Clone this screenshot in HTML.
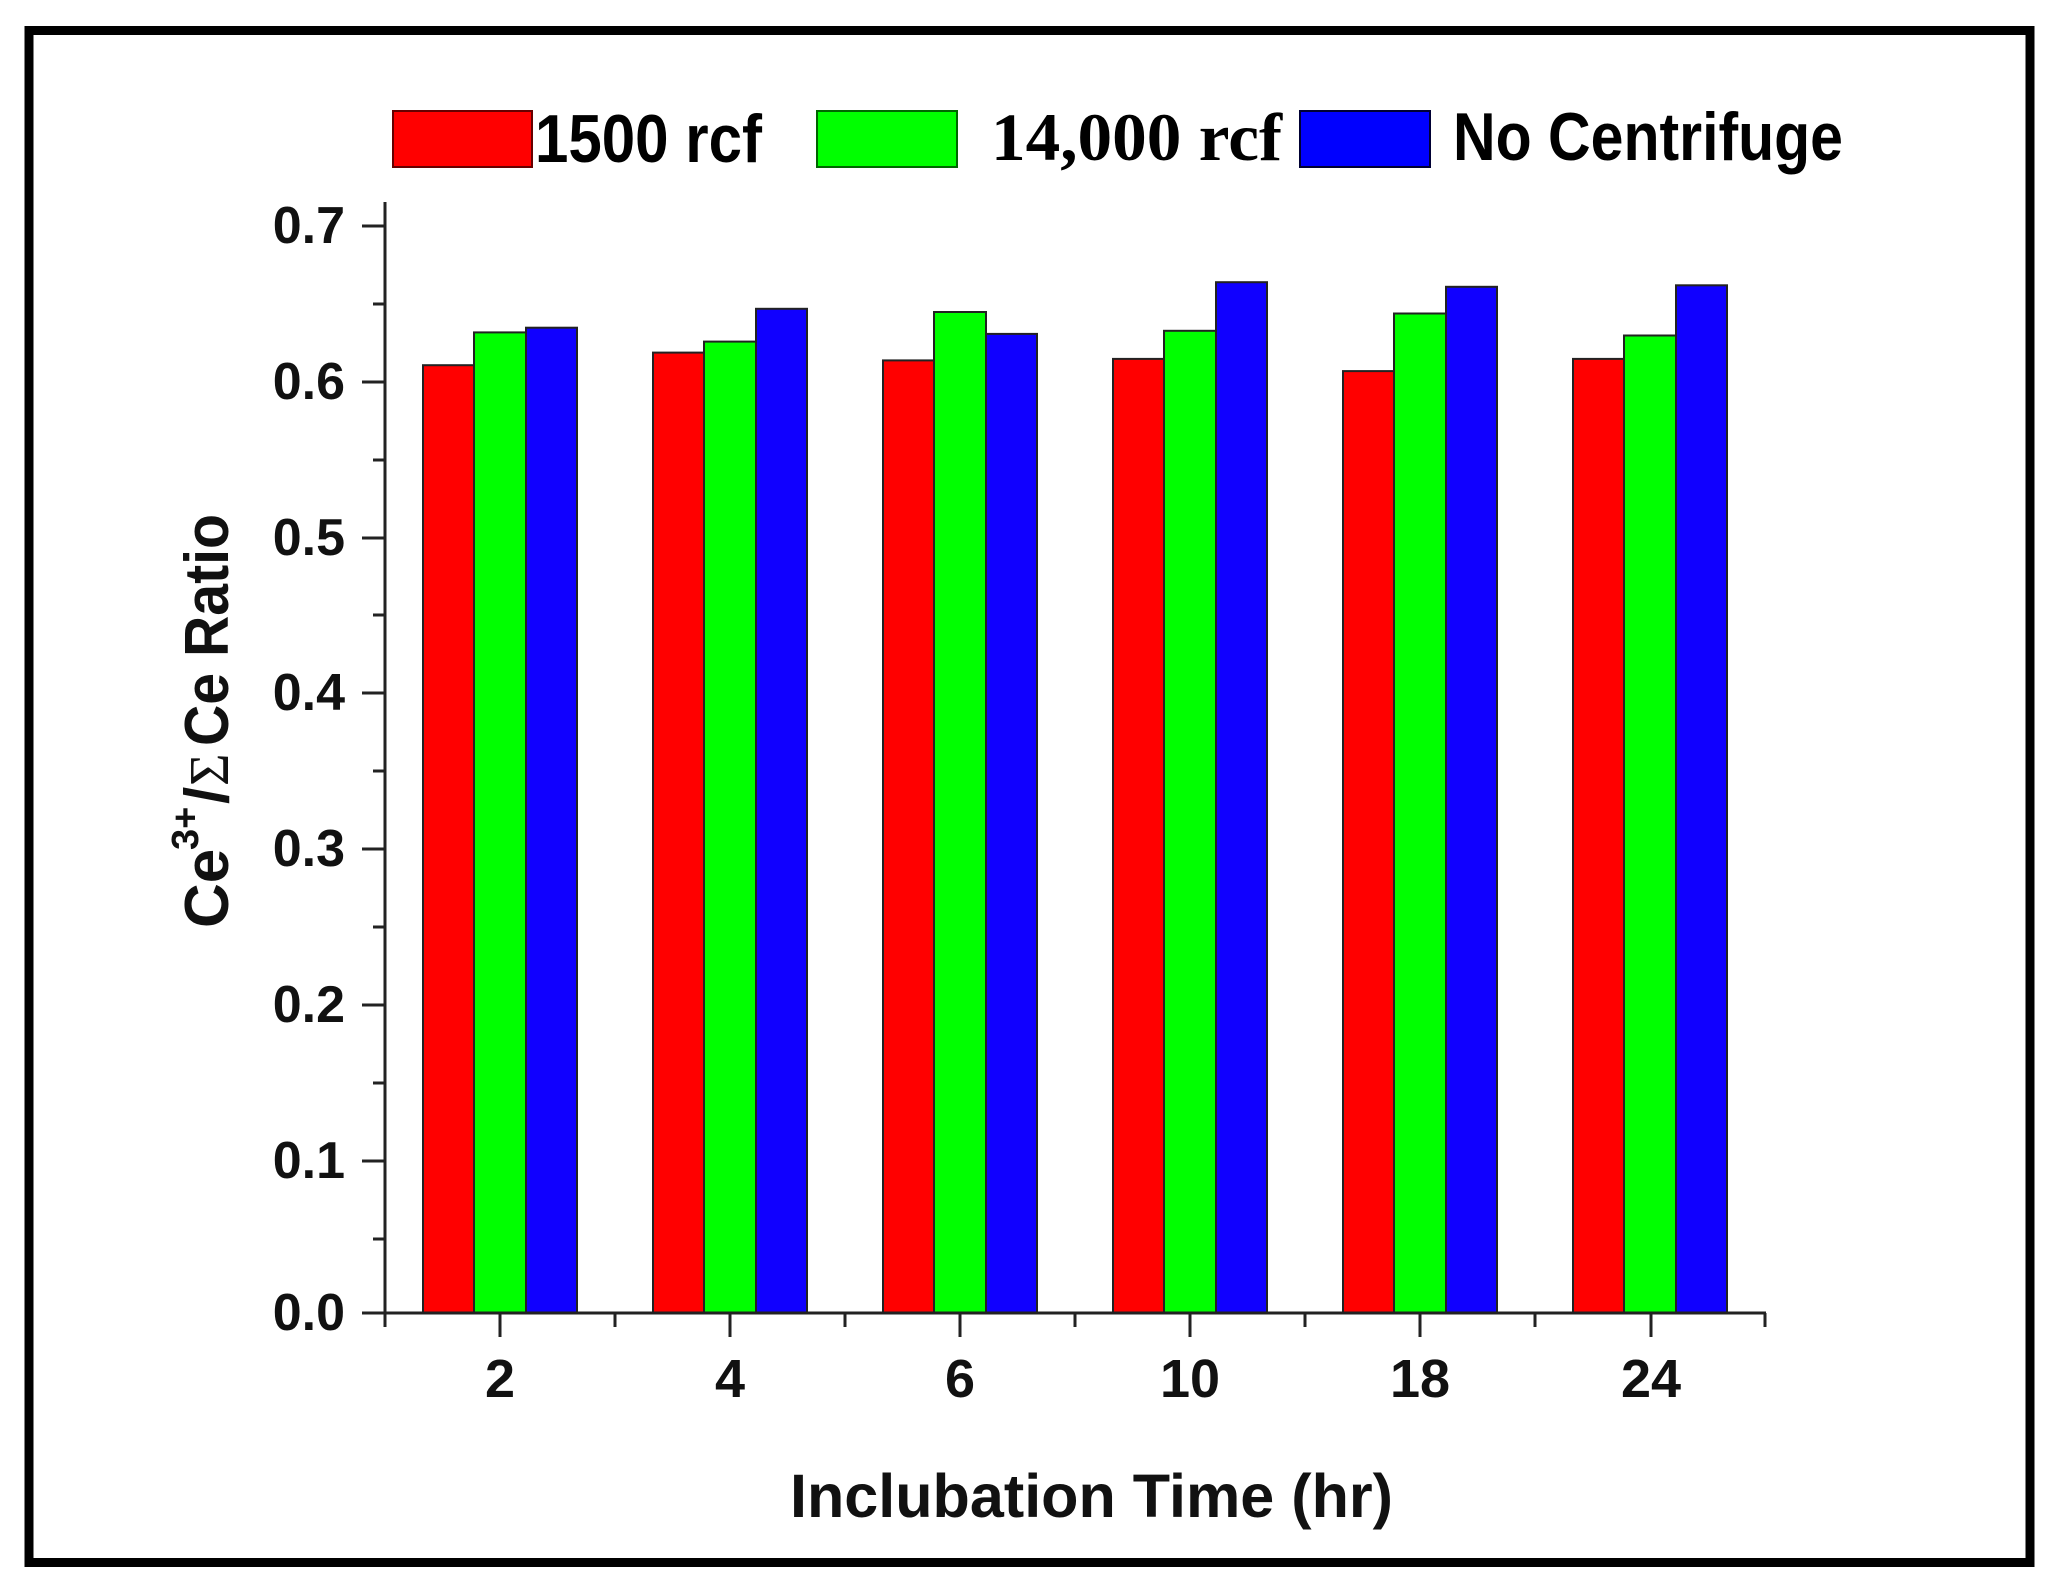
<!DOCTYPE html>
<html><head><meta charset="utf-8"><style>
html,body{margin:0;padding:0;background:#fff;}
svg{display:block;}
</style></head><body>
<svg width="2053" height="1595" viewBox="0 0 2053 1595" xmlns="http://www.w3.org/2000/svg">
<rect x="0" y="0" width="2053" height="1595" fill="#fff"/>
<rect x="29" y="30.5" width="2001" height="1532" fill="none" stroke="#000" stroke-width="9"/>
<!-- legend -->
<rect x="393" y="111" width="139" height="56" fill="#ff0000" stroke="#600" stroke-width="2"/>
<text x="535" y="162" font-family="Liberation Sans, sans-serif" font-weight="bold" font-size="68" textLength="227" lengthAdjust="spacingAndGlyphs">1500 rcf</text>
<rect x="817" y="111" width="140" height="56" fill="#00ff00" stroke="#060" stroke-width="2"/>
<text x="991" y="160" font-family="Liberation Serif, serif" font-weight="bold" font-size="68" textLength="291" lengthAdjust="spacingAndGlyphs">14,000 rcf</text>
<rect x="1300" y="111" width="130" height="56" fill="#0000ff" stroke="#003" stroke-width="2"/>
<text x="1453" y="160" font-family="Liberation Sans, sans-serif" font-weight="bold" font-size="68" textLength="390" lengthAdjust="spacingAndGlyphs">No Centrifuge</text>
<!-- bars -->
<g stroke="#222" stroke-width="2">
<rect x="423" y="365.2" width="51" height="947.8" fill="#ff0000"/>
<rect x="474" y="332.4" width="52" height="980.6" fill="#00ff00"/>
<rect x="526" y="327.7" width="51" height="985.3" fill="#1000ff"/>
<rect x="653" y="352.6" width="51" height="960.4" fill="#ff0000"/>
<rect x="704" y="341.6" width="52" height="971.4" fill="#00ff00"/>
<rect x="756" y="308.8" width="51" height="1004.2" fill="#1000ff"/>
<rect x="883" y="360.4" width="51" height="952.6" fill="#ff0000"/>
<rect x="934" y="312" width="52" height="1001" fill="#00ff00"/>
<rect x="986" y="333.9" width="51" height="979.1" fill="#1000ff"/>
<rect x="1113" y="358.9" width="51" height="954.1" fill="#ff0000"/>
<rect x="1164" y="330.8" width="52" height="982.2" fill="#00ff00"/>
<rect x="1216" y="282.2" width="51" height="1030.8" fill="#1000ff"/>
<rect x="1343" y="371.1" width="51" height="941.9" fill="#ff0000"/>
<rect x="1394" y="313.5" width="52" height="999.5" fill="#00ff00"/>
<rect x="1446" y="286.8" width="51" height="1026.2" fill="#1000ff"/>
<rect x="1573" y="358.9" width="51" height="954.1" fill="#ff0000"/>
<rect x="1624" y="335.5" width="52" height="977.5" fill="#00ff00"/>
<rect x="1676" y="285.3" width="51" height="1027.7" fill="#1000ff"/>
</g>
<!-- axes -->
<g stroke="#222" stroke-width="3" fill="none">
<line x1="385" y1="202" x2="385" y2="1314"/>
<line x1="384" y1="1313" x2="1766" y2="1313"/>
<line x1="362" y1="226" x2="385" y2="226"/><line x1="373" y1="304" x2="385" y2="304"/>
<line x1="362" y1="382" x2="385" y2="382"/><line x1="373" y1="460" x2="385" y2="460"/>
<line x1="362" y1="538" x2="385" y2="538"/><line x1="373" y1="615" x2="385" y2="615"/>
<line x1="362" y1="693" x2="385" y2="693"/><line x1="373" y1="771" x2="385" y2="771"/>
<line x1="362" y1="849" x2="385" y2="849"/><line x1="373" y1="927" x2="385" y2="927"/>
<line x1="362" y1="1005" x2="385" y2="1005"/><line x1="373" y1="1083" x2="385" y2="1083"/>
<line x1="362" y1="1161" x2="385" y2="1161"/><line x1="373" y1="1239" x2="385" y2="1239"/>
<line x1="362" y1="1313" x2="385" y2="1313"/>
<line x1="500" y1="1313" x2="500" y2="1337"/><line x1="730" y1="1313" x2="730" y2="1337"/>
<line x1="960" y1="1313" x2="960" y2="1337"/><line x1="1190" y1="1313" x2="1190" y2="1337"/>
<line x1="1420" y1="1313" x2="1420" y2="1337"/><line x1="1651" y1="1313" x2="1651" y2="1337"/>
<line x1="385" y1="1313" x2="385" y2="1327"/><line x1="615" y1="1313" x2="615" y2="1327"/>
<line x1="845" y1="1313" x2="845" y2="1327"/><line x1="1075" y1="1313" x2="1075" y2="1327"/>
<line x1="1305" y1="1313" x2="1305" y2="1327"/><line x1="1535" y1="1313" x2="1535" y2="1327"/>
<line x1="1765" y1="1313" x2="1765" y2="1327"/>
</g>
<g font-family="Liberation Sans, sans-serif" font-weight="bold" font-size="52" fill="#111" text-anchor="end">
<text x="345" y="243">0.7</text><text x="345" y="399">0.6</text><text x="345" y="555">0.5</text>
<text x="345" y="710">0.4</text><text x="345" y="866">0.3</text><text x="345" y="1022">0.2</text>
<text x="345" y="1178">0.1</text><text x="345" y="1330">0.0</text>
</g>
<g font-family="Liberation Sans, sans-serif" font-weight="bold" font-size="54" fill="#111" text-anchor="middle">
<text x="500" y="1397">2</text><text x="730" y="1397">4</text><text x="960" y="1397">6</text>
<text x="1190" y="1397">10</text><text x="1420" y="1397">18</text><text x="1651" y="1397">24</text>
</g>
<text x="790" y="1517" font-family="Liberation Sans, sans-serif" font-weight="bold" font-size="61" fill="#111" textLength="603" lengthAdjust="spacingAndGlyphs">Inclubation Time (hr)</text>
<g transform="translate(228,928) rotate(-90)" font-family="Liberation Sans, sans-serif" font-weight="bold" fill="#111">
<text x="0" y="0" font-size="62">Ce</text>
<text x="78" y="-30" font-size="38">3+</text>
<text x="124" y="0" font-size="62">/</text>
<text x="142" y="0" font-size="56" font-weight="normal" font-family="Liberation Serif, serif">Σ</text>
<text x="182" y="0" font-size="62" textLength="232" lengthAdjust="spacingAndGlyphs">Ce Ratio</text>
</g>
</svg>
</body></html>
